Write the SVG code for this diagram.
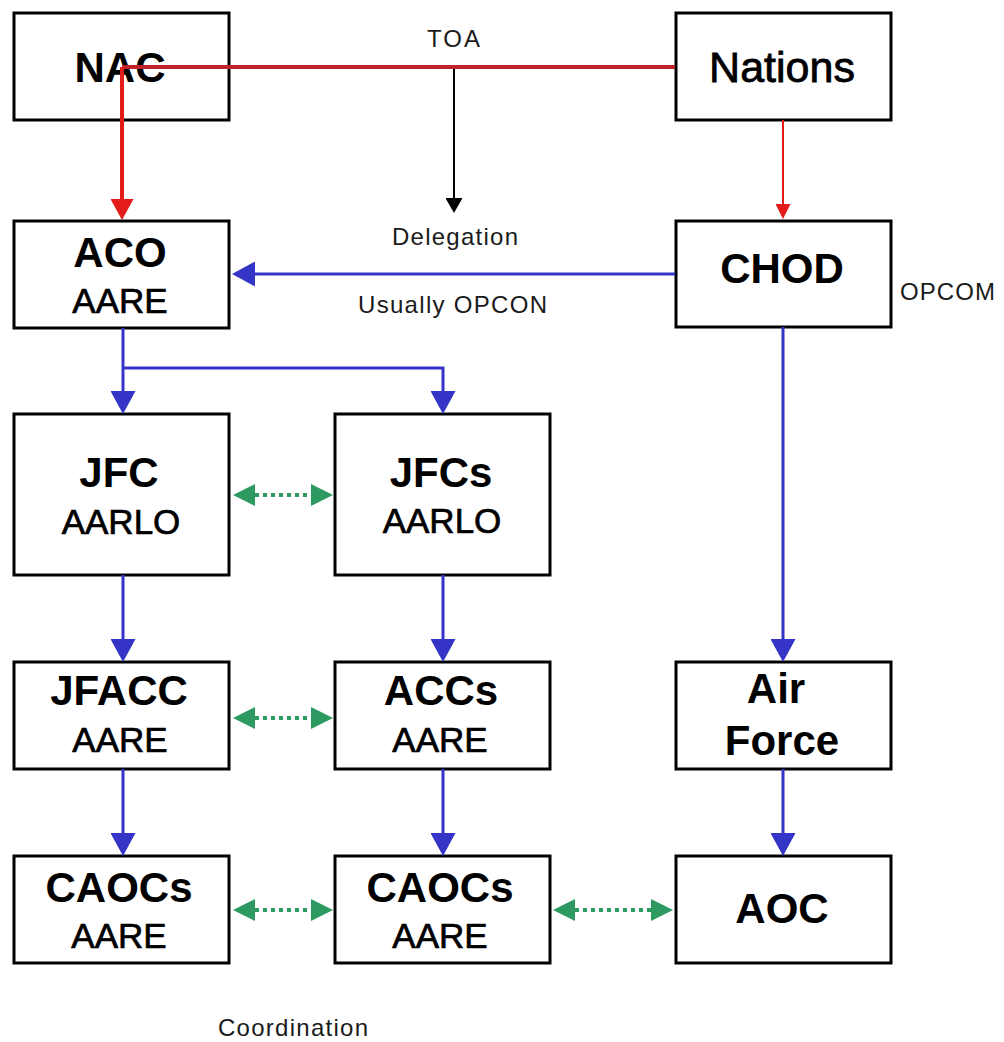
<svg xmlns="http://www.w3.org/2000/svg" width="1004" height="1042" viewBox="0 0 1004 1042">
<style>
.box{fill:#fff;stroke:#000;stroke-width:3}
.big{font-family:"Liberation Sans",Arial,sans-serif;font-weight:700;font-size:42px;fill:#000;text-anchor:middle}
.reg{font-family:"Liberation Sans",Arial,sans-serif;font-weight:400;font-size:35px;fill:#000;stroke:#000;stroke-width:0.7;text-anchor:middle}
.nat{font-family:"Liberation Sans",Arial,sans-serif;font-weight:400;font-size:43px;fill:#000;stroke:#000;stroke-width:0.8;text-anchor:middle}
.lbl{font-family:"Liberation Sans",Arial,sans-serif;font-weight:400;font-size:24px;fill:#1a1a1a}
.blue{fill:none;stroke:#3434c6;stroke-width:3}
.green{fill:none;stroke:#2e9a62;stroke-width:4;stroke-dasharray:4 4}
</style>
<defs>
<marker id="mBlue" markerUnits="userSpaceOnUse" markerWidth="23" markerHeight="25" refX="0" refY="12.5" orient="auto"><path d="M0,0 L23,12.5 L0,25 Z" fill="#3434c6"/></marker>
<marker id="mRedBig" markerUnits="userSpaceOnUse" markerWidth="21" markerHeight="23" refX="0" refY="11.5" orient="auto"><path d="M0,0 L21,11.5 L0,23 Z" fill="#e31b1b"/></marker>
<marker id="mRedSmall" markerUnits="userSpaceOnUse" markerWidth="15" markerHeight="15" refX="0" refY="7.5" orient="auto"><path d="M0,0 L15,7.5 L0,15 Z" fill="#e31b1b"/></marker>
<marker id="mBlack" markerUnits="userSpaceOnUse" markerWidth="15" markerHeight="17" refX="0" refY="8.5" orient="auto"><path d="M0,0 L15,8.5 L0,17 Z" fill="#000"/></marker>
<marker id="mGreen" markerUnits="userSpaceOnUse" markerWidth="22" markerHeight="22" refX="0" refY="11" orient="auto-start-reverse"><path d="M0,0 L22,11 L0,22 Z" fill="#2e9a62"/></marker>
</defs>

<g id="nodes">
<g id="NAC"><rect class="box" x="14" y="13" width="215" height="107"/><text class="big" x="120" y="82">NAC</text></g>
<g id="Nations"><rect class="box" x="676" y="13" width="215" height="107"/><text class="nat" x="782" y="82">Nations</text></g>
<g id="ACO"><rect class="box" x="14" y="221" width="215" height="107"/><text class="big" x="120" y="267">ACO</text><text class="reg" x="120" y="313">AARE</text></g>
<g id="CHOD"><rect class="box" x="676" y="221" width="215" height="106"/><text class="big" x="782" y="283">CHOD</text></g>
<g id="JFC"><rect class="box" x="14" y="414" width="215" height="161"/><text class="big" x="119" y="487">JFC</text><text class="reg" x="121" y="534">AARLO</text></g>
<g id="JFCs"><rect class="box" x="335" y="414" width="215" height="161"/><text class="big" x="441" y="487">JFCs</text><text class="reg" x="442" y="533">AARLO</text></g>
<g id="JFACC"><rect class="box" x="14" y="662" width="215" height="107"/><text class="big" x="119" y="705">JFACC</text><text class="reg" x="120" y="752">AARE</text></g>
<g id="ACCs"><rect class="box" x="335" y="662" width="215" height="107"/><text class="big" x="441" y="705">ACCs</text><text class="reg" x="440" y="752">AARE</text></g>
<g id="AirForce"><rect class="box" x="676" y="662" width="215" height="107"/><text class="big" x="776" y="703">Air</text><text class="big" x="782" y="755">Force</text></g>
<g id="CAOCs1"><rect class="box" x="14" y="856" width="215" height="107"/><text class="big" x="119" y="902">CAOCs</text><text class="reg" x="119" y="948">AARE</text></g>
<g id="CAOCs2"><rect class="box" x="335" y="856" width="215" height="107"/><text class="big" x="440" y="902">CAOCs</text><text class="reg" x="440" y="948">AARE</text></g>
<g id="AOC"><rect class="box" x="676" y="856" width="215" height="107"/><text class="big" x="782" y="923">AOC</text></g>
</g>

<g id="connectors">
<path d="M675,67 H122" fill="none" stroke="#bf2228" stroke-width="4"/>
<path d="M122,67 V199" fill="none" stroke="#e31b1b" stroke-width="4" marker-end="url(#mRedBig)"/>
<path d="M454,69 V198" fill="none" stroke="#000" stroke-width="2" marker-end="url(#mBlack)"/>
<path d="M783,120 V204" fill="none" stroke="#e31b1b" stroke-width="2" marker-end="url(#mRedSmall)"/>
<path class="blue" d="M675,274 H255" marker-end="url(#mBlue)"/>
<path class="blue" d="M123,328 V391" marker-end="url(#mBlue)"/>
<path class="blue" d="M123,368 H443 V391" marker-end="url(#mBlue)"/>
<path class="blue" d="M783,327 V639" marker-end="url(#mBlue)"/>
<path class="blue" d="M123,575 V639" marker-end="url(#mBlue)"/>
<path class="blue" d="M443,575 V639" marker-end="url(#mBlue)"/>
<path class="blue" d="M123,769 V833" marker-end="url(#mBlue)"/>
<path class="blue" d="M443,769 V833" marker-end="url(#mBlue)"/>
<path class="blue" d="M783,769 V833" marker-end="url(#mBlue)"/>
<path class="green" d="M255,495 H311" marker-start="url(#mGreen)" marker-end="url(#mGreen)"/>
<path class="green" d="M255,718 H311" marker-start="url(#mGreen)" marker-end="url(#mGreen)"/>
<path class="green" d="M255,910 H311" marker-start="url(#mGreen)" marker-end="url(#mGreen)"/>
<path class="green" d="M575,910 H651" marker-start="url(#mGreen)" marker-end="url(#mGreen)"/>
</g>

<g id="labels">
<text class="lbl" x="427" y="47" textLength="53" lengthAdjust="spacing">TOA</text>
<text class="lbl" x="392" y="245" textLength="126" lengthAdjust="spacing">Delegation</text>
<text class="lbl" x="358" y="313" textLength="189" lengthAdjust="spacing">Usually OPCON</text>
<text class="lbl" x="900" y="300" textLength="95" lengthAdjust="spacing">OPCOM</text>
<text class="lbl" x="218" y="1036" textLength="150" lengthAdjust="spacing">Coordination</text>
</g>
</svg>
